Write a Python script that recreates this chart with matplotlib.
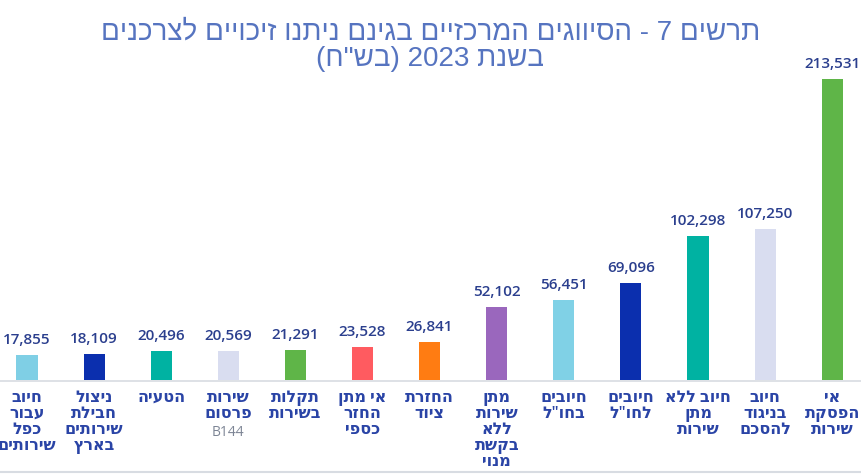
import re
import matplotlib
matplotlib.use("Agg")
import matplotlib.pyplot as plt

# data, left to right as shown in the chart
categories = [
    "חיוב\nעבור\nכפל\nשירותים",
    "ניצול\nחבילת\nשירותים\nבארץ",
    "הטעיה",
    "שירות\nפרסום",
    "תקלות\nבשירות",
    "אי מתן\nהחזר\nכספי",
    "החזרת\nציוד",
    "מתן\nשירות\nללא\nבקשת\nמנוי",
    "חיובים\nבחו\"ל",
    "חיובים\nלחו\"ל",
    "חיוב ללא\nמתן\nשירות",
    "חיוב\nבניגוד\nלהסכם",
    "אי\nהפסקת\nשירות",
]
sub_labels = ["", "", "", "B144", "", "", "", "", "", "", "", "", ""]
values = [17855, 18109, 20496, 20569, 21291, 23528, 26841,
          52102, 56451, 69096, 102298, 107250, 213531]
colors = ["#7fcfe5", "#0b2fae", "#00b2a2", "#d9ddf0", "#5fb548", "#ff5b60",
          "#ff7c12", "#9a67bd", "#80d1e6", "#0b2fae", "#00b2a2", "#d9ddf0",
          "#5fb548"]
title = "תרשים 7 - הסיווגים המרכזיים בגינם ניתנו זיכויים לצרכנים\nבשנת 2023 (בש\"ח)"


def rtl(s):
    # matplotlib has no bidi support, so flip each line into visual order
    mirror = {"(": ")", ")": "("}
    lines = []
    for line in s.split("\n"):
        tokens = re.findall(r"[0-9A-Za-z,\.]+|.", line)
        lines.append("".join(mirror.get(t, t) for t in tokens[::-1]))
    return "\n".join(lines)


plt.rcParams["font.family"] = ["Open Sans", "DejaVu Sans"]

W, H = 861, 475
fig = plt.figure(figsize=(W / 100, H / 100), dpi=100)

# bar centres sit at 27 + 67.1*i px, baseline at y=380 px
step = 67.1
x0 = 27
ax = fig.add_axes([0, (H - 380) / H, 1, (380 - 60) / H])
ax.set_xlim(-x0 / step, (W - x0) / step)
ax.set_ylim(0, 213531 * 320 / 301)

xs = list(range(len(values)))
ax.bar(xs, values, width=0.315, color=colors, zorder=2)

for x, v in zip(xs, values):
    ax.annotate(f"{v:,}", (x, v), xytext=(0, 8), textcoords="offset pixels",
                ha="center", va="bottom", fontsize=11, fontweight="semibold",
                color="#2b3f8e")

for x, lab, sub in zip(xs, categories, sub_labels):
    t = rtl(lab)
    ax.annotate(t, (x, 0), xytext=(0, -10), textcoords="offset pixels",
                ha="center", va="top", fontsize=11.5, fontweight="semibold",
                color="#2a44a6", linespacing=1.0, multialignment="center")
    if sub:
        nlines = lab.count("\n") + 1
        ax.annotate(sub, (x, 0), xytext=(0, -12 - nlines * 16.5),
                    textcoords="offset pixels", ha="center", va="top",
                    fontsize=10, color="#7d8595")

for s in ax.spines.values():
    s.set_visible(False)
ax.set_xticks([])
ax.set_yticks([])
ax.patch.set_alpha(0)

# baseline and bottom rule
fig.add_artist(plt.Line2D([0, 1], [(H - 380.5) / H] * 2, color="#d8dce2", lw=1.2))
fig.add_artist(plt.Line2D([0, 1], [(H - 472) / H] * 2, color="#d8dce2", lw=1.5))

fig.text(0.5, (H - 46) / H, rtl(title), ha="center", va="center",
         family=["Liberation Sans", "DejaVu Sans"],
         fontsize=20, fontweight="normal", color="#5674c0", linespacing=1.05)

fig.savefig("out.png", dpi=100)
